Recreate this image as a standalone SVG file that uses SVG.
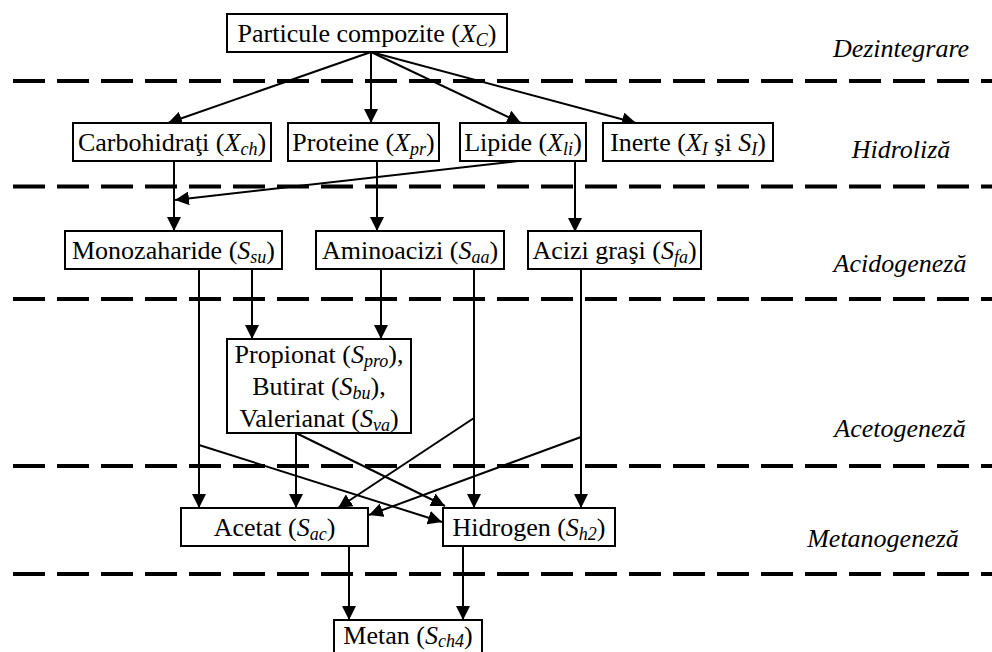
<svg xmlns="http://www.w3.org/2000/svg" width="992" height="652" viewBox="0 0 992 652">
<defs>
<marker id="ah" markerUnits="userSpaceOnUse" markerWidth="14" markerHeight="14" refX="14" refY="7" orient="auto">
<path d="M0,0 L14,7 L0,14 z" fill="#000"/>
</marker>
</defs>
<style>
.box{fill:#fff;stroke:#000;stroke-width:2}
.t{font-size:26px;text-anchor:middle;fill:#000}
.i{font-style:italic}
.s{font-style:italic;font-size:18px}
.dash{stroke:#000;stroke-width:4;stroke-dasharray:32 12}
.edge{stroke:#000;stroke-width:2;fill:none;marker-end:url(#ah)}
.ph{font-size:26px;font-style:italic;text-anchor:middle;fill:#000}
</style>
<rect width="992" height="652" fill="#fff"/>
<g id="separators">
<line class="dash" x1="13" y1="81" x2="992" y2="81"/>
<line class="dash" x1="13" y1="186.5" x2="992" y2="186.5"/>
<line class="dash" x1="13" y1="299" x2="992" y2="299"/>
<line class="dash" x1="13" y1="466" x2="992" y2="466"/>
<line class="dash" x1="13" y1="574" x2="992" y2="574"/>
</g>
<g id="phases" font-family="Liberation Serif, DejaVu Serif, serif">
<text class="ph" x="901" y="57">Dezintegrare</text>
<text class="ph" x="901" y="158">Hidroliză</text>
<text class="ph" x="900" y="272">Acidogeneză</text>
<text class="ph" x="900" y="437">Acetogeneză</text>
<text class="ph" x="883" y="547">Metanogeneză</text>
</g>
<g id="connectors">
<path class="edge" d="M371,52 L168,123"/>
<path class="edge" d="M371,52 L371,123"/>
<path class="edge" d="M371,52 L521,123"/>
<path class="edge" d="M371,52 L636,123"/>
<path class="edge" d="M174,161 L174,231"/>
<path class="edge" d="M518,161 L175,200"/>
<path class="edge" d="M377,161 L377,231"/>
<path class="edge" d="M575,161 L575,232"/>
<path class="edge" d="M252,269 L252,339"/>
<path class="edge" d="M381,269 L381,339"/>
<path class="edge" d="M199,269 L199,508"/>
<path class="edge" d="M474,269 L474,508"/>
<path class="edge" d="M581,269 L581,508"/>
<path class="edge" d="M296,433 L296,508"/>
<path class="edge" d="M296,433 L445,506"/>
<path class="edge" d="M199,445 L442,522"/>
<path class="edge" d="M474,418 L338,508"/>
<path class="edge" d="M581,437 L369,515"/>
<path class="edge" d="M349,546 L349,620"/>
<path class="edge" d="M463,546 L463,620"/>
</g>
<g id="nodes" font-family="Liberation Serif, DejaVu Serif, serif">
<g id="n-xc">
<rect class="box" x="227" y="14" width="280" height="38"/>
<text class="t" x="367" y="41.5">Particule compozite (<tspan class="i">X</tspan><tspan class="s" dy="4">C</tspan><tspan dy="-4">)</tspan></text>
</g>
<g id="n-xch">
<rect class="box" x="73" y="123" width="198" height="38"/>
<text class="t" x="172" y="150.5">Carbohidraţi (<tspan class="i">X</tspan><tspan class="s" dy="4">ch</tspan><tspan dy="-4">)</tspan></text>
</g>
<g id="n-xpr">
<rect class="box" x="288" y="123" width="151" height="38"/>
<text class="t" x="363.5" y="150.5">Proteine (<tspan class="i">X</tspan><tspan class="s" dy="4">pr</tspan><tspan dy="-4">)</tspan></text>
</g>
<g id="n-xli">
<rect class="box" x="460" y="123" width="126" height="38"/>
<text class="t" x="523" y="150.5">Lipide (<tspan class="i">X</tspan><tspan class="s" dy="4">li</tspan><tspan dy="-4">)</tspan></text>
</g>
<g id="n-xi">
<rect class="box" x="603" y="123" width="170" height="38"/>
<text class="t" x="688" y="150.5">Inerte (<tspan class="i">X</tspan><tspan class="s" dy="4">I</tspan><tspan dy="-4"> şi </tspan><tspan class="i">S</tspan><tspan class="s" dy="4">I</tspan><tspan dy="-4">)</tspan></text>
</g>
<g id="n-ssu">
<rect class="box" x="65" y="231" width="217" height="38"/>
<text class="t" x="173.5" y="258.5">Monozaharide (<tspan class="i">S</tspan><tspan class="s" dy="4">su</tspan><tspan dy="-4">)</tspan></text>
</g>
<g id="n-saa">
<rect class="box" x="316" y="231" width="188" height="38"/>
<text class="t" x="410" y="258.5">Aminoacizi (<tspan class="i">S</tspan><tspan class="s" dy="4">aa</tspan><tspan dy="-4">)</tspan></text>
</g>
<g id="n-sfa">
<rect class="box" x="528" y="231" width="173" height="38"/>
<text class="t" x="614.5" y="258.5">Acizi graşi (<tspan class="i">S</tspan><tspan class="s" dy="4">fa</tspan><tspan dy="-4">)</tspan></text>
</g>
<g id="n-vfa">
<rect class="box" x="227" y="339" width="184" height="94"/>
<text class="t" x="319" y="363">Propionat (<tspan class="i">S</tspan><tspan class="s" dy="4">pro</tspan><tspan dy="-4">),</tspan></text>
<text class="t" x="319" y="395">Butirat (<tspan class="i">S</tspan><tspan class="s" dy="4">bu</tspan><tspan dy="-4">),</tspan></text>
<text class="t" x="319" y="427">Valerianat (<tspan class="i">S</tspan><tspan class="s" dy="4">va</tspan><tspan dy="-4">)</tspan></text>
</g>
<g id="n-sac">
<rect class="box" x="181" y="508" width="187" height="38"/>
<text class="t" x="274.5" y="535.5">Acetat (<tspan class="i">S</tspan><tspan class="s" dy="4">ac</tspan><tspan dy="-4">)</tspan></text>
</g>
<g id="n-sh2">
<rect class="box" x="443" y="508" width="172" height="38"/>
<text class="t" x="529" y="535.5">Hidrogen (<tspan class="i">S</tspan><tspan class="s" dy="4">h2</tspan><tspan dy="-4">)</tspan></text>
</g>
<g id="n-sch4">
<rect class="box" x="334" y="620" width="148" height="38"/>
<text class="t" x="408" y="644">Metan (<tspan class="i">S</tspan><tspan class="s" dy="3">ch4</tspan><tspan dy="-3">)</tspan></text>
</g>
</g>
</svg>
